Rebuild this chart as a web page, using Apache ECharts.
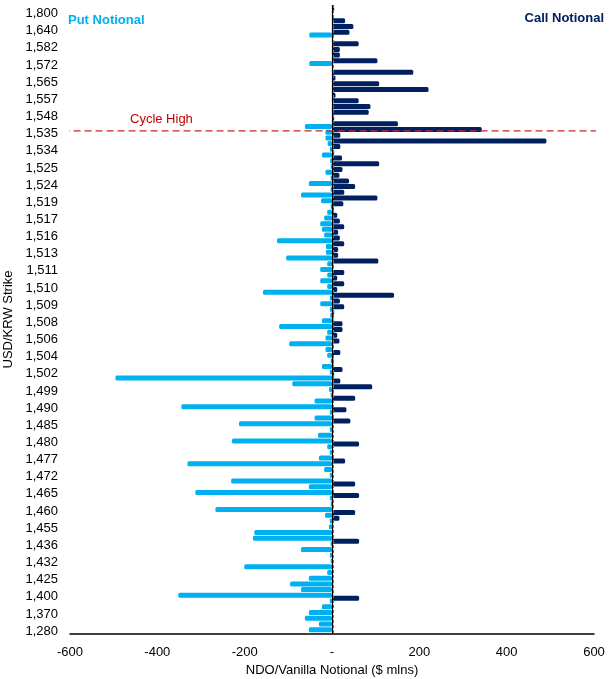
<!DOCTYPE html>
<html>
<head>
<meta charset="utf-8">
<script src="https://cdn.jsdelivr.net/npm/echarts@6/dist/echarts.min.js"></script>
<style>
  html, body { margin: 0; padding: 0; background: #fff; }
  #main { width: 613px; height: 679px; }
</style>
</head>
<body>
<div id="main"></div>
<script>
// strike labels shown on the axis (every third strike row, from the top)
var shownLabels = ['1,800','1,640','1,582','1,572','1,565','1,557','1,548','1,535','1,534','1,525',
  '1,524','1,519','1,517','1,516','1,513','1,511','1,510','1,509','1,508','1,506','1,504','1,502',
  '1,499','1,490','1,485','1,480','1,477','1,472','1,465','1,460','1,455','1,436','1,432','1,425',
  '1,400','1,370','1,280'];

// put notional ($ mlns), one value per strike row, top to bottom
var putNotional = [0,0,0,0,0,-52,0,0,0,0,
  -52,0,0,0,0,0,0,0,0,0,
  0,-62,-15,-15,-10,-5,-23,-4,-3,-15,
  -3,-53,-3,-71,-25,-3,-11,-18,-27,-23,
  -18,-126,-14,-14,-105,-11,-27,-11,-27,-11,
  -158,-5,-27,-5,-4,-23,-121,-11,-15,-98,
  -15,-11,-3,-23,-5,-496,-91,-7,-3,-40,
  -345,-5,-40,-213,-5,-32,-229,-11,-5,-30,
  -331,-18,-5,-231,-53,-313,-5,-3,-267,-16,
  -5,-7,-178,-181,-3,-71,-5,-3,-201,-11,
  -53,-96,-71,-352,-5,-23,-53,-62,-30,-53];

// call notional ($ mlns), one value per strike row, top to bottom
var callNotional = [5,2,30,49,40,2,61,18,18,104,
  2,186,8,108,221,8,61,88,84,5,
  151,343,19,491,19,5,23,108,24,17,
  39,53,28,104,26,4,12,18,28,14,
  18,28,14,14,106,3,28,12,28,12,
  142,18,28,5,3,24,24,12,17,3,
  19,3,3,24,5,19,92,3,53,2,
  33,2,42,0,0,0,62,0,0,30,
  0,0,0,53,0,62,0,0,53,17,
  0,0,0,62,0,0,0,0,0,0,
  0,0,0,62,0,0,0,0,0,0];

// cycle high sits between rows 21 and 22
var cycleHighRow = 21.5;

var rows = putNotional.map(function (v, i) { return String(i); });

var myChart = echarts.init(document.getElementById('main'));

var option = {
  animation: false,
  textStyle: { fontFamily: 'Liberation Sans, Arial, sans-serif' },
  grid: { left: 70, right: 19, top: 5, bottom: 45, outerBoundsMode: 'none', containLabel: false },
  xAxis: {
    type: 'value',
    min: -600,
    max: 600,
    interval: 200,
    name: 'NDO/Vanilla Notional ($ mlns)',
    nameLocation: 'middle',
    nameGap: 27,
    nameTextStyle: { color: '#000', fontSize: 13 },
    axisLine: { show: true, onZero: false, lineStyle: { color: '#000', width: 1.5 } },
    axisTick: { show: false },
    splitLine: { show: false },
    axisLabel: {
      color: '#000', fontSize: 13, margin: 12,
      formatter: function (v) { return v === 0 ? '-' : String(v); }
    }
  },
  yAxis: [{
    type: 'category',
    inverse: true,
    data: rows,
    name: 'USD/KRW Strike',
    nameLocation: 'middle',
    nameGap: 53,
    nameTextStyle: { color: '#000', fontSize: 13 },
    axisLine: { show: false },
    axisTick: { show: false },
    axisLabel: {
      color: '#000', fontSize: 13, margin: 12,
      interval: function (i) { return i % 3 === 1; },
      formatter: function (v, i) { return shownLabels[(i - 1) / 3] || ''; }
    }
  }, {
    type: 'value',
    show: false,
    inverse: true,
    min: -0.5,
    max: putNotional.length - 0.5
  }],
  graphic: [
    { type: 'text', left: 68, top: 14,
      style: { text: 'Put Notional', fill: '#00B0F0', font: 'bold 13px Liberation Sans, Arial, sans-serif' } },
    { type: 'text', right: 9, top: 12,
      style: { text: 'Call Notional', fill: '#002060', font: 'bold 13px Liberation Sans, Arial, sans-serif' } },
    { type: 'text', left: 130, top: 113,
      style: { text: 'Cycle High', fill: '#C00000', font: '13px Liberation Sans, Arial, sans-serif' } }
  ],
  series: [{
    name: 'Put Notional',
    type: 'bar',
    data: putNotional,
    barWidth: 5,
    barGap: '-40%',
    itemStyle: { color: '#00B0F0', borderRadius: 1.5 }
  }, {
    name: 'Call Notional',
    type: 'bar',
    data: callNotional,
    barWidth: 5,
    barGap: '-40%',
    itemStyle: { color: '#002060', borderRadius: 1.5 },
    markLine: {
      silent: true,
      symbol: 'none',
      label: { show: false },
      data: [
        { xAxis: 0, lineStyle: { color: '#000', width: 1.2, type: 'solid' } },
        { xAxis: 2.5, lineStyle: { color: '#2E86C8', width: 1, type: [3, 2] } }
      ]
    }
  }, {
    name: 'Cycle High',
    type: 'line',
    yAxisIndex: 1,
    clip: false,
    symbol: 'none',
    silent: true,
    lineStyle: { color: '#C8282D', width: 1.3, type: [7, 4] },
    data: [[-617, cycleHighRow], [612, cycleHighRow]],
    z: 5
  }]
};

myChart.setOption(option);
</script>
</body>
</html>
